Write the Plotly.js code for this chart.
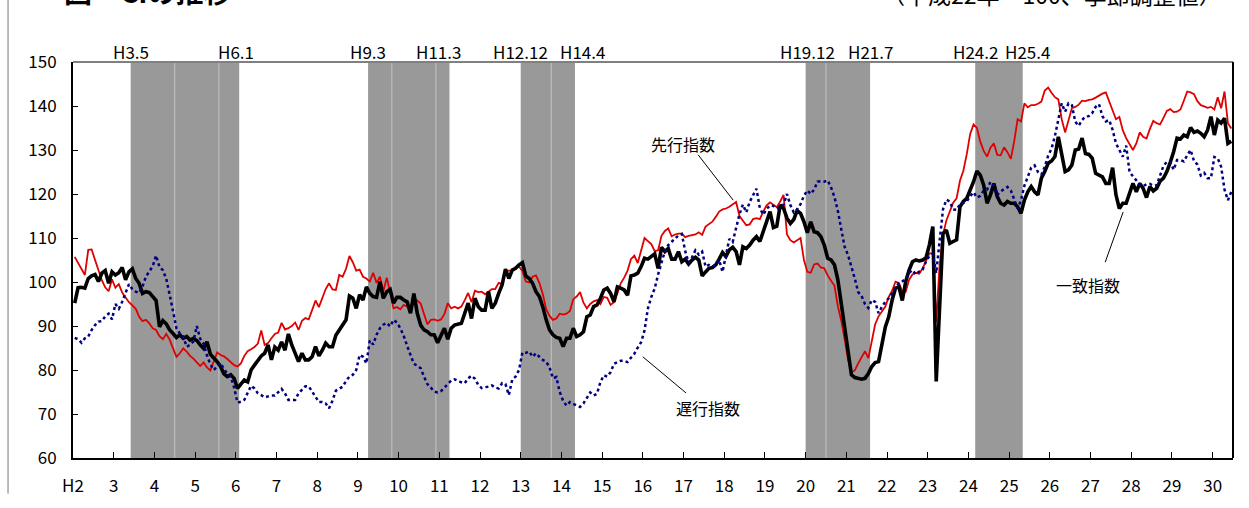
<!DOCTYPE html>
<html><head><meta charset="utf-8">
<script src="https://cdn.plot.ly/plotly-3.0.1.min.js"></script>
<style>html,body{margin:0;padding:0;background:#fff;}#chart{width:1249px;height:508px;}</style>
</head><body><div id="chart"></div>
<script>
// Monthly data from H2.1 (Jan 1990) to H30.6
const startYear = 2, startMonth = 1;
const coincident = [
95.2,98.7,98.8,98.6,100.8,101.4,101.7,100.1,102,102.6,
99.7,102.3,101.6,102.1,103.3,100.5,102.3,103,100.8,99.7,
97.4,97.8,97.6,96.7,95.8,89.8,91.2,90.5,89.1,88.3,
87.4,88,87.2,87.6,86.8,87.2,86.7,85.7,84.9,86.4,
83.6,82.7,81.9,80.8,79.1,78.5,78.9,78.1,75.8,76.8,
77.7,77.3,80,81.1,82.1,83.2,83.8,85.7,82.3,85.2,
84.5,86.4,84.5,88.2,85.7,83.8,81.9,83.8,82.3,82.3,
83,85.3,83.2,84.5,86.1,85.3,85.3,87.9,89.1,90.4,
91.4,96.8,96.3,94,97.1,95.9,98.9,97.4,
96.7,96.5,100.1,96.3,97.8,98.3,95.2,96.5,96.5,95.9,95.5,92.9,
97.4,92.9,90.2,89.1,88.7,88,88,86.2,88,89.5,
87,89.5,90.2,90.4,90.6,92.9,95.2,91.7,96.3,94.4,
93.6,93.6,97.8,94,95.2,97.4,99.3,102.9,100.8,102.7,
103.1,103.9,104.4,101.4,100.8,99.7,97.8,96.7,94.4,91.4,
89.1,88,87.4,87.2,85.3,87.2,87.2,89.5,87.6,88,
88.7,92.1,92.5,94.4,94.8,96.3,98.2,98.6,97.4,95.5,
98.9,98.6,98.2,97,101.4,101.6,102,
103.5,105.4,105.2,105.9,106.4,103.1,107.9,106.9,107.6,105.2,105.2,106.9,104.6,
105.2,104.1,105,105.6,105,101.4,102.3,103.1,103.3,103.9,
105.2,106.7,105.8,107.3,107.9,106.9,103.9,108,107.6,108.4,
109.5,110.3,109.2,111.4,113.3,116,112.4,112.7,117.5,116.7,
114.5,113.3,114.2,116.2,115.6,113.7,111.2,113.7,111.4,111.2,
110.3,108.4,105.4,105,103.9,100.5,95.1,89.8,84.5,78.9,
78.3,78.1,77.9,78.1,79.2,80.8,81.7,81.9,86.1,89.8,
92.1,95.9,98.6,98.9,95.8,100.1,102.7,104.6,105,104.8,
105,105.5,108.5,112.6,77.4,
93,111,111.8,108.8,109.2,
109.6,117.1,118.3,119,120.8,122.8,125.2,124.3,122,117.9,
119.8,122.4,119.4,117.9,117.5,118.3,117.9,117.9,117.1,115.6,
118.6,120.5,121.7,120.5,119.8,123.6,125.1,127,127.5,128.5,
133,129.2,125.1,125.5,126.6,130,130.2,132.7,129.2,129,
128.1,124.7,124.3,123.9,122.4,122.4,126,119.8,116.7,117.9,
117.9,120.5,122.4,120.5,122.4,121.3,119.2,121.7,120.7,121.3,
122.9,123.6,125.1,127.2,129.6,132.7,132.5,133.4,133,135.1,
134,134.3,133.8,133,134.5,137.6,133.4,136.8,136.1,137.2,
131.5,132
];
const leading = [
105.7,104.4,103,101.6,107.3,107.4,105,102.7,100.4,98.8,
97.9,100.6,98.7,99.5,97.6,96.5,95.4,94.7,93.9,92.1,
91.1,91.4,90.6,89.5,89.1,87.7,87,88.2,86.9,84.9,
83,83.8,84.9,84.2,83.2,82.6,81.8,80.9,81.7,80.6,
79.9,82,84,83.4,83.1,82.5,81.7,81.1,80.8,81.5,
83.2,84.3,84.7,85.2,86,89,85.7,86.1,87.2,88.2,
88.5,90.7,89.2,89.5,90,90.8,89.1,91.2,91.8,91.5,
93.6,95.8,94.3,96.5,98.4,99.7,98.3,98.2,101.6,101.2,
103,105.9,104.5,102.6,
102.8,101.2,100.8,100.1,
102.1,99.8,101.2,97.9,101,97.7,94,94.3,93.8,94.8,94.4,94.4,
95.9,95.8,95.1,92.7,90.4,91.4,91.5,91.2,91.5,92.7,
95.2,94,94.4,94,94.4,95.9,97.5,95.4,98,97.7,
97.8,97.2,97.9,98.4,98.4,99.8,99.5,102.2,102.6,102.6,
103.4,103.5,102.5,100.1,99.9,101.2,101.5,99.8,97.3,93.8,
92.3,91.4,91.7,92.8,92.6,92.8,93.4,96.1,96.7,97.7,
95.3,94,95,95.6,95.9,95,96.6,96.4,94.8,95.4,
97.4,99.7,101,102.6,105.2,106,104.3,
107,110,109.3,108.6,107,107.2,110.5,111.6,112.2,110.4,110.8,111,111,
110.2,110.5,110.6,110.8,111.3,110.7,112.6,113.1,113.7,114.8,
116,116.5,116.7,117.1,117.6,118.2,115,113.9,112.9,113.1,
114.3,114.5,114.3,116,117.4,118.1,117.5,117,118.3,119.8,
110.8,109.5,109,109.5,110,105,102.3,102.1,104,104.2,
103.3,103.1,101.5,100.3,99.2,94.5,91.2,87,82.4,79.5,
79.9,81.5,83,84.3,82.7,86.5,90.4,92.2,93.3,94.4,
96.6,98,100.1,99.8,97.9,97.8,100.5,101.7,102.1,101.9,
103.1,105,106.5,106.5,91,
103.9,110.7,114,116,118,
119,123,125.3,129,133.6,135.8,135,131.9,129.8,128.5,
130.5,131.5,128.9,128.8,130.6,129.5,128,132,137,136.5,
140.6,139.7,140.2,140.2,140.5,141,143.5,144.2,143,142,
141.5,137,134,136.5,139.5,139.8,140.3,141.2,141.1,141.4,
141.5,141.9,142.4,142.8,143.1,141,138.8,137,137.5,134.5,
132.7,131.2,130,131.5,134,133,132.6,134.8,136.6,136.1,
135.8,137.3,138.9,139.3,138.6,138.7,139.2,141.2,143.3,143.1,
142.7,141.1,140.2,139.9,139.6,139.8,139.2,142,139.5,143.3,
136.1,134.9
];
const lagging = [
87.3,87,86.2,87.2,87.6,89.1,90.2,91,91.1,92.2,
92.8,91.5,95,93.9,95.5,97.5,99.5,98.4,97.8,97.5,
99,101.2,102.4,103.6,106,103.4,102.7,100.7,97.1,93.3,
89.5,88.3,87.6,85.3,85.7,86.5,90,87.1,86,83.3,
81.3,80,80.7,81.6,80.2,79.2,78.5,76,72.6,72.8,
73.2,75,76.4,75.8,74.7,74.3,73.8,74,74.2,74.2,
74.9,75.7,74.7,73.2,73.2,73.2,74.7,75.4,76.3,76.3,
75.2,74.1,72.7,72.7,72.4,71.3,73,75.3,75.8,76.2,
77.5,78.5,78.9,80,
83.4,83,81.5,86.7,
85.8,88,89.5,90.3,90.7,89.9,91.4,90.8,89.5,87.8,85.5,83.4,
81.4,81,80.4,78.5,76.8,76,75.1,74.9,75.2,76,
76.8,77.6,77.9,77.5,77.2,77,78.1,78.7,78,76.6,
75.9,76.1,76.2,76.5,76,75.8,77,76.8,74.3,77.8,
78.5,80,84,83.9,84.2,83,83.8,83,82.3,81.9,
80.6,78.1,78.4,75,73,71.9,72.7,72.3,71.9,71.6,
72.4,73.7,74.9,74.2,74.6,77.3,78.8,78.5,79.5,81.4,
81.7,82.1,82.1,81.8,82.8,83.7,85.1,
86.3,89,94,96.6,98.5,101.7,104.6,107,108.4,109.1,109.8,110.6,110.9,
107,104.4,105.6,107.2,106.2,106.9,103.5,103.9,103.5,103.9,
105,102.3,106,109.8,109.1,112,115.4,117.6,115.8,118.2,
119.8,121.2,116.8,115.3,116.6,117.4,117.3,116.7,116.9,117.6,
120,117.5,115.8,116.5,117.7,119.6,120.8,120,121,122.8,
122.9,122.8,123.1,121.5,119.3,116.2,112,108,106.1,103.6,
100.8,97.7,96.8,95,94.1,95.9,95.5,92.9,94.4,95.5,
96.3,97.4,98.9,99.7,100.1,100.6,102.1,102.7,101.7,102.4,
102.8,104.7,105.9,106.4,102,
109.9,116.5,118.7,118.3,116.5,
116.4,117.7,118,118.3,119.5,120.4,119.2,119.6,120.8,121,
122.8,122,119.8,120.6,121.1,121.6,120.8,118.9,116.7,118.6,
121.9,123.9,126,126.5,125,124.4,126.2,128.7,130.3,133.2,
137.3,140.6,138.7,140.6,140.2,136.4,135.5,136.8,137.6,137.7,
138.4,139.8,140.4,137.7,136.5,136.8,134.6,131.5,130,128.5,
131,125,124,123.2,122.2,121.8,122.2,122.3,121.9,122,
124.3,126.4,127.3,127.3,125.5,127.7,127.7,127.4,128.8,130,
127.5,126.7,124.2,124.8,123.6,123.6,128.4,128.1,126.2,121,
118.6,120.5
];
const tickYears = [2,3,4,5,6,7,8,9,10,11,12,13,14,15,16,17,18,19,20,21,22,23,24,25,26,27,28,29,30];
const tickLabels = ["H2","3","4","5","6","7","8","9","10","11","12","13","14","15","16","17","18","19","20","21","22","23","24","25","26","27","28","29","30"];
// shaded periods (start, end) in Heisei year.month
const bandStarts = ["H3.5","H9.3","H12.12","H19.12","H24.2"];
const bandEnds   = ["H6.1","H11.3","H14.4","H21.7","H25.4"];
const bandInnerLines = ["H4.6","H5.7","H9.10","H10.11","H13.9","H20.6"];
const seriesNames = ["先行指数","一致指数","遅行指数"];
const titleText = "図　CIの推移";
const noteText = "（平成22年＝100、季節調整値）";

function hx(s){ const p = s.slice(1).split("."); return +p[0] + (+p[1])/12; }
const xs = coincident.map((_, i) => startYear + (startMonth - 1 + i + 0.5) / 12);

const FONT = "'Noto Sans CJK JP', 'Noto Sans', sans-serif";
const traces = [
  {x: xs, y: leading, type: "scatter", mode: "lines", name: seriesNames[0], line: {color: "#e00000", width: 1.8}},
  {x: xs, y: coincident, type: "scatter", mode: "lines", name: seriesNames[1], line: {color: "#000000", width: 3.6}},
  {x: xs, y: lagging, type: "scatter", mode: "lines", name: seriesNames[2], line: {color: "#000080", width: 2.5, dash: "dot"}}
];

const shapes = [];
bandStarts.forEach((s, k) => {
  shapes.push({type: "rect", xref: "x", yref: "paper", x0: hx(s), x1: hx(bandEnds[k]), y0: 0, y1: 1,
    fillcolor: "#999999", line: {width: 0}, layer: "below"});
});
bandInnerLines.forEach(s => {
  shapes.push({type: "line", xref: "x", yref: "paper", x0: hx(s), x1: hx(s), y0: 0, y1: 1,
    line: {color: "#c4c4c4", width: 1}, layer: "below"});
});
// frame
shapes.push({type: "line", xref: "paper", yref: "paper", x0: 0, x1: 1, y0: 1, y1: 1, line: {color: "#808080", width: 2}});
shapes.push({type: "line", xref: "paper", yref: "paper", x0: 1, x1: 1, y0: 0, y1: 1, line: {color: "#000", width: 2}});
shapes.push({type: "line", xref: "paper", yref: "paper", x0: -0.056, x1: -0.056, y0: -0.09, y1: 1.16, line: {color: "#777", width: 1}});
// pointer lines
const pointers = [
  [17.36, 128.9, 18.22, 118.6],
  [16.0, 83.0, 17.06, 74.8],
  [27.80, 115.9, 27.36, 104.5]
];
pointers.forEach(p => shapes.push({type: "line", xref: "x", yref: "y", x0: p[0], y0: p[1], x1: p[2], y1: p[3], line: {color: "#000", width: 1}}));

const annotations = [];
const allBandLabels = [];
bandStarts.forEach((s, k) => { allBandLabels.push(s); allBandLabels.push(bandEnds[k]); });
const labelShift = [0, -3, 0, -11, 0, 8, 2, 0, 0, 5];
allBandLabels.forEach((s, k) => annotations.push({x: hx(s), xref: "x", y: 1, yref: "paper", text: s, showarrow: false,
  xanchor: "center", yanchor: "middle", yshift: 11, xshift: labelShift[k], font: {family: FONT, size: 17, color: "#000"}}));
annotations.push({x: 16.99, y: 131.4, xref: "x", yref: "y", text: seriesNames[0], showarrow: false, font: {family: FONT, size: 16, color: "#000"}});
annotations.push({x: 17.60, y: 71.4, xref: "x", yref: "y", text: seriesNames[2], showarrow: false, font: {family: FONT, size: 16, color: "#000"}});
annotations.push({x: 26.94, y: 99.3, xref: "x", yref: "y", text: seriesNames[1], showarrow: false, font: {family: FONT, size: 16, color: "#000"}});
annotations.push({x: -0.0095, y: 1.124, xref: "paper", yref: "paper", text: "<b>" + titleText + "</b>", showarrow: false,
  xanchor: "left", yanchor: "bottom", font: {family: FONT, size: 28, color: "#000"}});
annotations.push({x: 0.992, y: 1.124, xref: "paper", yref: "paper", text: noteText, showarrow: false,
  xanchor: "right", yanchor: "bottom", font: {family: FONT, size: 23, color: "#000"}});

const layout = {
  width: 1249, height: 508,
  margin: {l: 73, r: 16, t: 62, b: 50},
  paper_bgcolor: "#fff", plot_bgcolor: "#fff",
  showlegend: false,
  font: {family: FONT, color: "#000"},
  xaxis: {range: [2, 30.5], tickvals: tickYears, ticktext: tickLabels, ticks: "inside", ticklen: 6, tickcolor: "#000",
    ticklabelstandoff: 12,
    showline: true, linecolor: "#000", linewidth: 2, showgrid: false, zeroline: false, tickfont: {size: 17, family: FONT}},
  yaxis: {range: [60, 150], dtick: 10, ticks: "inside", ticklen: 5, tickcolor: "#000",
    ticklabelstandoff: 11,
    showline: true, linecolor: "#000", linewidth: 2, showgrid: false, zeroline: false, tickfont: {size: 17, family: FONT}},
  shapes: shapes,
  annotations: annotations
};
Plotly.newPlot("chart", traces, layout, {displayModeBar: false, staticPlot: true});
</script>
</body></html>
